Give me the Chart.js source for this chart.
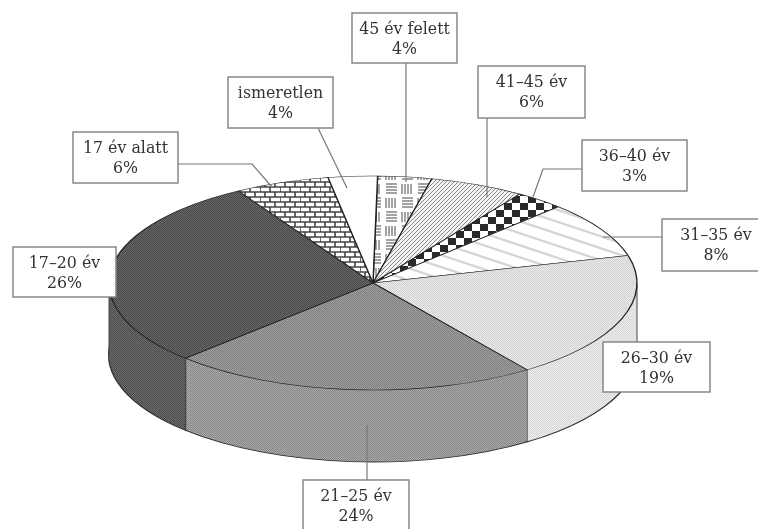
<!DOCTYPE html>
<html>
<head>
<meta charset="utf-8">
<style>
html, body { margin: 0; padding: 0; background: #fff; }
canvas { display: block; }
</style>
<script src="https://cdn.jsdelivr.net/npm/chart.js@4"></script>
</head>
<body>
<canvas id="myChart" width="758" height="529"></canvas>
<script>
// slices, clockwise from the top
var categories = ['45 év felett', '41–45 év', '36–40 év', '31–35 év', '26–30 év', '21–25 év', '17–20 év', '17 év alatt', 'ismeretlen'];
// printed percentages
var percents = [4, 6, 3, 8, 19, 24, 26, 6, 4];
// slice shares as measured on the drawing (they differ a little from the printed numbers)
var shares = [3.3, 5.8, 3.0, 8.5, 19.2, 22.5, 28.9, 5.8, 3.0];

// label boxes [left, top, right, bottom], same order as categories
var boxes = [
    [352, 13, 457, 63],
    [478, 66, 585, 118],
    [582, 140, 687, 191],
    [662, 219, 770, 271],
    [603, 342, 710, 392],
    [303, 480, 409, 532],
    [13, 247, 116, 297],
    [73, 132, 178, 183],
    [228, 77, 333, 128]
];
var leaders = [
    [[406, 63], [406, 182]],
    [[487, 118], [487, 197]],
    [[582, 169], [543, 169], [533, 197]],
    [[662, 237], [603, 237]],
    [],
    [[367, 425], [367, 480]],
    [],
    [[178, 164], [252, 164], [272, 187]],
    [[318, 128], [347, 188]]
];

var centerX = 373, centerY = 283, radius = 264, radiusY = 107, depth = 72;

function newTile(w, h, paint) {
    var c = document.createElement('canvas');
    c.width = w;
    c.height = h;
    paint(c.getContext('2d'));
    return c.getContext('2d').createPattern(c, 'repeat');
}

// halftone greys
function dots(light, dark) {
    return newTile(4, 4, function (g) {
        g.fillStyle = light;
        g.fillRect(0, 0, 4, 4);
        g.fillStyle = dark;
        g.fillRect(0, 0, 1, 1); g.fillRect(2, 0, 1, 1);
        g.fillRect(1, 1, 1, 1); g.fillRect(3, 1, 1, 1);
        g.fillRect(0, 2, 1, 1); g.fillRect(2, 2, 1, 1);
        g.fillRect(1, 3, 1, 1); g.fillRect(3, 3, 1, 1);
    });
}

var blockPattern = newTile(32, 28, function (g) {
    g.fillStyle = '#fff';
    g.fillRect(0, 0, 32, 28);
    g.strokeStyle = '#666';
    g.lineWidth = 1.2;
    function vert(x0, y0) {
        for (var i = 0; i < 4; i++) { g.beginPath(); g.moveTo(x0 + 2 + i * 3, y0 + 2); g.lineTo(x0 + 2 + i * 3, y0 + 12); g.stroke(); }
    }
    function horiz(x0, y0) {
        for (var i = 0; i < 4; i++) { g.beginPath(); g.moveTo(x0 + 2, y0 + 2 + i * 3); g.lineTo(x0 + 13, y0 + 2 + i * 3); g.stroke(); }
    }
    vert(0, 0); horiz(16, 0); horiz(0, 14); vert(16, 14);
});

var diagonalPattern = newTile(4, 4, function (g) {
    g.fillStyle = '#f4f4f4';
    g.fillRect(0, 0, 4, 4);
    g.strokeStyle = '#8a8a8a';
    g.lineWidth = 1;
    g.beginPath();
    g.moveTo(-1, 5); g.lineTo(5, -1);
    g.moveTo(-1, 1); g.lineTo(1, -1);
    g.moveTo(3, 5); g.lineTo(5, 3);
    g.stroke();
});

var checkPattern = newTile(16, 14, function (g) {
    g.fillStyle = '#fff';
    g.fillRect(0, 0, 16, 14);
    g.fillStyle = '#2a2a2a';
    g.fillRect(0, 0, 8, 7);
    g.fillRect(8, 7, 8, 7);
});

var streakPattern = newTile(36, 12, function (g) {
    g.fillStyle = '#fff';
    g.fillRect(0, 0, 36, 12);
    g.strokeStyle = '#d6d6d6';
    g.lineWidth = 2.4;
    g.beginPath();
    g.moveTo(-36, -12); g.lineTo(72, 24);
    g.moveTo(-36, 0); g.lineTo(36, 24);
    g.moveTo(0, -12); g.lineTo(72, 12);
    g.stroke();
});

var brickPattern = newTile(20, 10, function (g) {
    g.fillStyle = '#fff';
    g.fillRect(0, 0, 20, 10);
    g.strokeStyle = '#444';
    g.lineWidth = 1.6;
    g.beginPath();
    g.moveTo(0, 2); g.lineTo(20, 2);
    g.moveTo(0, 7); g.lineTo(20, 7);
    g.moveTo(5, 2); g.lineTo(5, 7);
    g.moveTo(15, 2); g.lineTo(15, 7);
    g.moveTo(0, 7); g.lineTo(0, 12);
    g.moveTo(10, 7); g.lineTo(10, 12);
    g.moveTo(0, -3); g.lineTo(0, 2);
    g.moveTo(10, -3); g.lineTo(10, 2);
    g.stroke();
});

var fills = [blockPattern, diagonalPattern, checkPattern, streakPattern, dots('#e8e8e8', '#d4d4d4'), dots('#a2a2a2', '#7c7c7c'), dots('#6c6c6c', '#444'), brickPattern, '#fff'];
var sideFills = ['#fff', '#fff', '#fff', '#fff', dots('#ececec', '#d8d8d8'), dots('#ababab', '#858585'), dots('#707070', '#474747'), '#fff', '#fff'];

function squash(ctx, arc, shift) {
    ctx.translate(centerX, centerY + shift);
    ctx.scale(1, radiusY / radius);
    ctx.translate(-arc.x, -arc.y);
}

function alignPattern(ctx, fill) {
    // keep the tile in page pixels whatever the transform is
    if (fill instanceof CanvasPattern) {
        fill.setTransform(ctx.getTransform().inverse());
    }
}

var pie3d = {
    id: 'pie3d',
    beforeDatasetsDraw: function (chart) {
        var ctx = chart.ctx;
        var arcs = chart.getDatasetMeta(0).data;
        // side wall: the same arcs stacked downwards
        for (var k = depth; k >= 1; k--) {
            ctx.save();
            squash(ctx, arcs[0], k);
            arcs.forEach(function (arc, i) {
                var saved = arc.options;
                alignPattern(ctx, sideFills[i]);
                arc.options = Object.assign({}, saved, {
                    backgroundColor: sideFills[i],
                    borderColor: '#333',
                    borderWidth: k === depth ? 2 : 0
                });
                arc.draw(ctx);
                arc.options = saved;
            });
            ctx.restore();
        }
        // vertical edges on the wall
        ctx.save();
        ctx.strokeStyle = '#444';
        ctx.lineWidth = 1;
        var edges = [0, Math.PI];
        arcs.forEach(function (arc) { edges.push(arc.startAngle); });
        edges.forEach(function (a) {
            if (Math.sin(a) < -0.001) return;
            var x = centerX + radius * Math.cos(a);
            var y = centerY + radiusY * Math.sin(a);
            ctx.beginPath();
            ctx.moveTo(x, y);
            ctx.lineTo(x, y + depth);
            ctx.stroke();
        });
        ctx.restore();
        // top face
        ctx.save();
        squash(ctx, arcs[0], 0);
        fills.forEach(function (f) { alignPattern(ctx, f); });
    },
    afterDatasetsDraw: function (chart) {
        var ctx = chart.ctx;
        ctx.restore();
        ctx.save();
        // leader lines
        ctx.strokeStyle = '#777';
        ctx.lineWidth = 1.2;
        leaders.forEach(function (pts) {
            if (!pts.length) return;
            ctx.beginPath();
            pts.forEach(function (p, i) {
                if (i === 0) ctx.moveTo(p[0], p[1]); else ctx.lineTo(p[0], p[1]);
            });
            ctx.stroke();
        });
        // label boxes
        ctx.font = '15.8px "DejaVu Serif"';
        ctx.textAlign = 'center';
        ctx.textBaseline = 'middle';
        boxes.forEach(function (b, i) {
            ctx.fillStyle = '#fff';
            ctx.fillRect(b[0], b[1], b[2] - b[0], b[3] - b[1]);
            ctx.strokeStyle = '#808080';
            ctx.lineWidth = 1.4;
            ctx.strokeRect(b[0], b[1], b[2] - b[0], b[3] - b[1]);
            var mid = (b[0] + b[2]) / 2;
            ctx.fillStyle = '#333';
            ctx.fillText(categories[i], mid, b[1] + 17);
            ctx.fillText(percents[i] + '%', mid, b[1] + 37);
        });
        ctx.restore();
    }
};

var ctx = document.getElementById('myChart').getContext('2d');
new Chart(ctx, {
    type: 'pie',
    data: {
        labels: categories,
        datasets: [{
            data: shares,
            backgroundColor: fills,
            borderColor: '#222',
            borderWidth: 1.4,
            borderAlign: 'center',
            clip: false
        }]
    },
    options: {
        responsive: false,
        animation: false,
        events: [],
        radius: radius,
        rotation: 1,
        layout: { padding: 0 },
        plugins: { legend: { display: false }, tooltip: { enabled: false } }
    },
    plugins: [pie3d]
});
</script>
</body>
</html>
